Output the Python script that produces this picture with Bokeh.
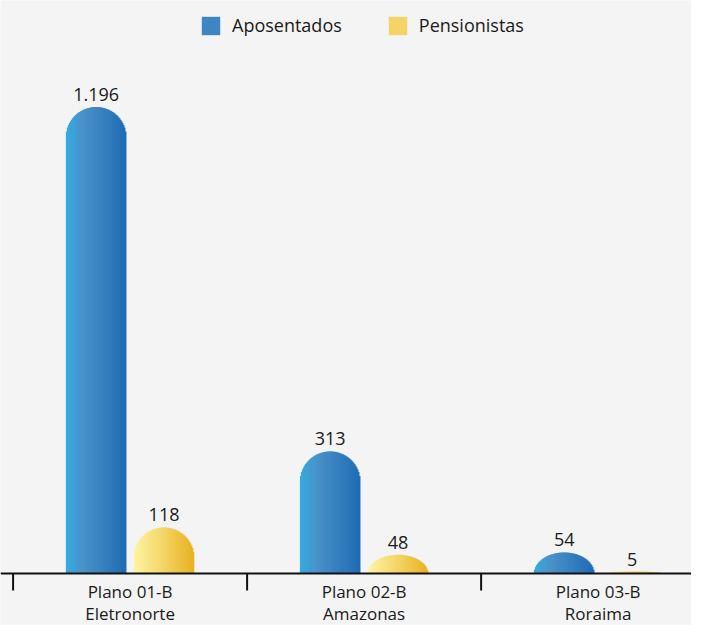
import numpy as np
from bokeh.plotting import figure
from bokeh.models import ColumnDataSource, Range1d, Legend, LegendItem
from bokeh.core.properties import value
from bokeh.embed import file_html
from bokeh.resources import INLINE

# ---- data ----
categories = ["Plano 01-B\nEletronorte", "Plano 02-B\nAmazonas", "Plano 03-B\nRoraima"]
series_names = ["Aposentados", "Pensionistas"]
aposentados = [1196, 313, 54]
pensionistas = [118, 48, 5]

# ---- layout / style constants ----
W, H = 691, 625
X_START, X_END = -0.0538, 2.899
Y_TOP, Y_BOTTOM = 1469, -133.3
FONT = "Open Sans"
BG = "#f4f4f4"
px_x = W / (X_END - X_START)
px_y = H / (Y_TOP - Y_BOTTOM)
BAR_W = 60 / px_x
CAP = 30 / px_y
OFFSETS = [-0.145, 0.145]
N_STRIPS = 60
GRADIENTS = [
    [(0.0, "#35abe1"), (0.3, "#4a91c8"), (1.0, "#1f6cb4")],
    [(0.0, "#fff5a3"), (0.45, "#f5d86c"), (1.0, "#e8b120")],
]


def hex2rgb(h):
    h = h.lstrip("#")
    return np.array([int(h[i:i + 2], 16) for i in (0, 2, 4)], dtype=float)


def grad_color(stops, t):
    for (t0, c0), (t1, c1) in zip(stops[:-1], stops[1:]):
        if t <= t1:
            f = (t - t0) / (t1 - t0)
            c = hex2rgb(c0) * (1 - f) + hex2rgb(c1) * f
            return "#%02x%02x%02x" % tuple(int(round(v)) for v in c)
    return stops[-1][1]


def fmt(v):
    return f"{v:,}".replace(",", ".")


p = figure(width=W, height=H, output_backend="svg", toolbar_location=None,
           x_range=Range1d(X_START, X_END), y_range=Range1d(Y_BOTTOM, Y_TOP),
           min_border=0)
p.axis.visible = False
p.grid.visible = False
p.outline_line_color = None
p.background_fill_color = BG
p.border_fill_color = BG

renderers = []
for s, vals in enumerate([aposentados, pensionistas]):
    xs, tops, widths, colors = [], [], [], []
    for c, v in enumerate(vals):
        center = c + 0.5 + OFFSETS[s]
        for i in range(N_STRIPS):
            t = (i + 0.5) / N_STRIPS
            u = 2 * t - 1
            if v >= CAP:
                top = v - CAP + CAP * np.sqrt(1 - u * u)
            else:
                top = v * np.sqrt(1 - u * u)
            xs.append(center + u * BAR_W / 2)
            tops.append(top)
            widths.append(BAR_W / N_STRIPS * 1.6)
            colors.append(grad_color(GRADIENTS[s], t))
    src = ColumnDataSource(dict(x=xs, top=tops, w=widths, color=colors))
    r = p.vbar(x="x", top="top", bottom=0, width="w", source=src,
               fill_color="color", line_color=None)
    renderers.append(r)

    lab = ColumnDataSource(dict(x=[c + 0.5 + OFFSETS[s] for c in range(len(vals))],
                                y=vals, t=[fmt(v) for v in vals]))
    p.text(x="x", y="y", text="t", source=lab, text_align="center",
           text_baseline="bottom", y_offset=-6, text_font=value(FONT),
           text_font_size="18px", text_color="#1a1a1a")

# axis line, boundary ticks, category labels
n = len(categories)
p.segment(x0=[X_START], y0=[0], x1=[X_END], y1=[0], line_color="#111111", line_width=2)
p.segment(x0=list(range(n + 1)), y0=[0] * (n + 1), x1=list(range(n + 1)),
          y1=[-17 / px_y] * (n + 1), line_color="#111111", line_width=2)
line1 = [c.split("\n")[0] for c in categories]
line2 = [c.split("\n")[1] for c in categories]
for txt, off in ((line1, 6), (line2, 28)):
    src = ColumnDataSource(dict(x=[c + 0.5 for c in range(n)], y=[0] * n, t=txt))
    p.text(x="x", y="y", text="t", source=src, text_align="center",
           text_baseline="top", y_offset=off, text_font=value(FONT),
           text_font_size="17px", text_color="#1a1a1a")

legend = Legend(items=[LegendItem(label=series_names[k], renderers=[renderers[k]], index=N_STRIPS // 2)
                       for k in range(2)],
                orientation="horizontal", location=(199, H - 14 - 23),
                glyph_width=23, glyph_height=23, label_height=23, label_standoff=10,
                spacing=44, padding=0, margin=0, border_line_color=None,
                background_fill_alpha=0, label_text_font=FONT,
                label_text_font_size="18px", label_text_color="#1a1a1a")
p.add_layout(legend)

open("out.html", "w").write(file_html(p, INLINE))
